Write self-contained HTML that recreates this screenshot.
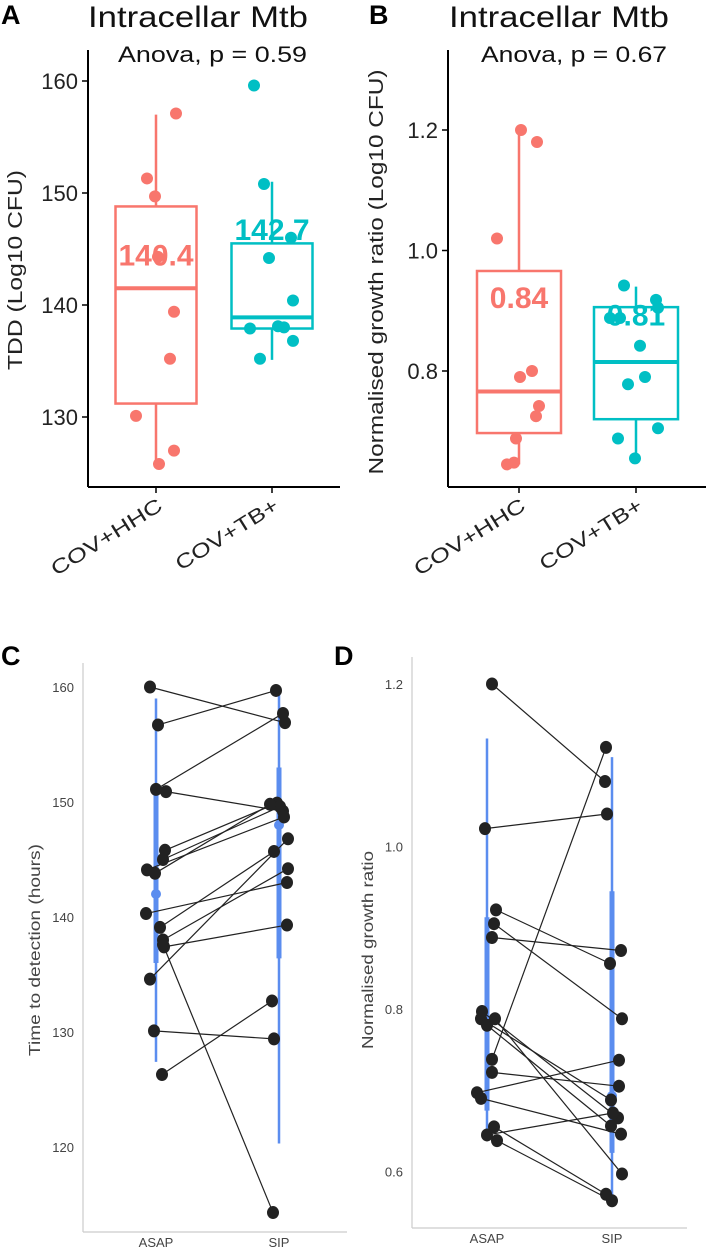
<!DOCTYPE html>
<html><head><meta charset="utf-8"><style>
body{margin:0;background:#fff}
svg{display:block;font-family:"Liberation Sans",Arial,sans-serif}
</style></head><body>
<svg id="fig" width="708" height="1249" viewBox="0 0 708 1249"></svg>
<script>
// ---- Panel A data ----
const catsAB = ["COV+HHC","COV+TB+"];
const aHHC = [157.1,151.3,149.7,144.3,139.4,135.2,130.1,127.0,125.8];
const aTB = [159.6,150.8,146.0,144.2,140.4,137.9,138.1,138.0,136.8,135.2];
const aBoxHHC = [125.8,131.2,141.5,148.8,157.0];
const aBoxTB = [135.1,137.9,138.9,145.5,151.0];
const aMeans = ["140.4","142.7"];
const aMeanVals = [144.5,146.8];
const aTicks = [130,140,150,160];
// ---- Panel B data ----
const bHHC = [1.2,1.18,1.02,0.80,0.79,0.742,0.725,0.688,0.648,0.645];
const bTB = [0.942,0.918,0.905,0.888,0.888,0.842,0.79,0.778,0.688,0.705,0.655];
const bBoxHHC = [0.645,0.697,0.766,0.966,1.2];
const bBoxTB = [0.655,0.72,0.815,0.906,0.94];
const bMeans = ["0.84","0.81"];
const bMeanVals = [0.923,0.894];
const bTicks = [0.8,1.0,1.2];
// ---- Panel C data ----
const catsCD = ["ASAP","SIP"];
const cASAP = [160,156.7,151.1,150.9,145.8,145,144.1,143.8,140.3,139.1,138,137.4,137.6,134.6,130.1,126.3];
const cSIP  = [156.9,159.7,157.7,149.2,149.9,149.6,148.7,149.8,143,145.7,144.2,139.3,114.3,146.8,129.4,132.7];
const cSummary = [[127.4,136,142,151,159],[120.3,136.4,148,153,159.5]];
const cTicks = [120,130,140,150,160];
// ---- Panel D data ----
const dASAP = [1.2,1.022,0.922,0.905,0.888,0.738,0.788,0.797,0.78,0.788,0.722,0.697,0.69,0.655,0.638,0.645];
const dSIP  = [1.08,1.04,0.856,0.788,0.872,1.122,0.688,0.666,0.656,0.597,0.705,0.737,0.646,0.572,0.564,0.672];
const dSummary = [[0.645,0.675,0.78,0.913,1.133],[0.565,0.623,0.693,0.945,1.11]];
const dTicks = [0.6,0.8,1.0,1.2];
// jitter (fraction of band) for dots
const jitA0 = [0.2,-0.09,-0.01,0.02,0.18,0.14,-0.2,0.18,0.03];
const jitA1 = [-0.18,-0.08,0.19,-0.03,0.21,-0.22,0.06,0.12,0.21,-0.12];
const jitB0 = [0.02,0.18,-0.22,0.13,0.01,0.2,0.17,-0.03,-0.05,-0.12];
const jitB1 = [-0.12,0.2,0.22,-0.26,-0.16,0.04,0.09,-0.08,-0.18,0.22,-0.01];
const jitC0 = [-0.06,0.02,0,0.1,0.09,0.07,-0.09,-0.01,-0.1,0.04,0.07,0.08,0.07,-0.06,-0.02,0.06];
const jitC1 = [0.06,-0.03,0.04,0.04,-0.02,0.01,0.05,-0.09,0.08,-0.05,0.09,0.08,-0.06,0.09,-0.05,-0.07];
const jitD0 = [0.05,-0.02,0.09,0.07,0.05,0.05,-0.06,-0.05,0,0.08,0.05,-0.1,-0.06,0.07,0.1,0];
const jitD1 = [-0.07,-0.05,-0.02,0.1,0.09,-0.06,-0.01,0.06,-0.01,0.1,0.07,0.07,0.09,-0.06,0,0.01];

const NS="http://www.w3.org/2000/svg";
const svg=document.getElementById('fig');
function el(tag,attrs,parent,text){const e=document.createElementNS(NS,tag);for(const k in attrs)e.setAttribute(k,attrs[k]);if(text!==undefined)e.textContent=text;(parent||svg).appendChild(e);return e;}
function lin(d0,d1,r0,r1){return v=>r0+(v-d0)*(r1-r0)/(d1-d0);}

const RED="#F8766D",TEAL="#00BFC4",BLUE="#5B8DEF";

function boxPanel(o){
  const g=el('g',{});
  
  
  const y=lin(o.v0,o.v1,o.y0,o.y1);
  const xs=[o.xc0,o.xc1];
  const ax=el('line',{x1:o.ax,y1:o.top,x2:o.ax,y2:o.bottom,stroke:'#000','stroke-width':2},g);
  
  const bx=el('line',{x1:o.ax,y1:o.bottom,x2:o.right,y2:o.bottom,stroke:'#000','stroke-width':2},g);
  
  o.ticks.forEach(t=>{
    el('line',{x1:o.ax-6,x2:o.ax,y1:y(t),y2:y(t),stroke:'#000','stroke-width':1.5},g);
    const tl=el('text',{x:o.ax-10,y:y(t)+8,'text-anchor':'end','font-size':22,fill:'#222'},g,o.fmt(t));
    
  });
  catsAB.forEach((c,i)=>{
    el('line',{x1:xs[i],x2:xs[i],y1:o.bottom,y2:o.bottom+6,stroke:'#000','stroke-width':1.5},g);
    const ex=xs[i]+8, ey=o.bottom+22;
    const tl=el('text',{x:ex,y:ey,'text-anchor':'end','font-size':20,fill:'#222',textLength:o.xl[i],lengthAdjust:'spacingAndGlyphs',transform:`rotate(-32 ${ex} ${ey})`},g,c);
    
  });
  const yt=el('text',{x:0,y:0,'text-anchor':'middle','font-size':20,fill:'#222',textLength:o.ytLen,lengthAdjust:'spacingAndGlyphs',transform:`translate(${o.ytx},${o.ytc}) rotate(-90)`},g,o.ytitle);
  
  const tt=el('text',{x:o.titleX,y:27,'font-size':30,fill:'#111',textLength:220,lengthAdjust:'spacingAndGlyphs'},g,'Intracellar Mtb');
  
  const lt=el('text',{x:o.letterX,y:24,'font-size':27,'font-weight':'bold',fill:'#000'},g,o.letter);
  
  const an=el('text',{x:o.anX,y:62,'font-size':22,fill:'#111',textLength:o.anLen,lengthAdjust:'spacingAndGlyphs'},g,o.anova);
  
  [o.boxes[0],o.boxes[1]].forEach((b,i)=>{
    const col=i?TEAL:RED, x=xs[i], w=o.bw;
    const wl=el('line',{x1:x,x2:x,y1:y(b[0]),y2:y(b[4]),stroke:col,'stroke-width':2.5},g);
    
    const r=el('rect',{x:x-w/2,y:y(b[3]),width:w,height:y(b[1])-y(b[3]),fill:'#fff',stroke:col,'stroke-width':2.5},g);
    
    el('line',{x1:x-w/2,x2:x+w/2,y1:y(b[2]),y2:y(b[2]),stroke:col,'stroke-width':4},g);
  });
  [o.d0,o.d1].forEach((arr,i)=>{
    const col=i?TEAL:RED, jit=i?o.j1:o.j0;
    arr.forEach((v,k)=>{
      const c=el('circle',{cx:xs[i]+jit[k]*o.band,cy:y(v),r:6,fill:col},g);
      
    });
  });
  o.means.forEach((m,i)=>{
    const t=el('text',{x:xs[i],y:y(o.meanVals[i])+11,'text-anchor':'middle','font-size':30,'font-weight':'bold',fill:i?TEAL:RED},g,m);
    
  });
}

boxPanel({name:'panel-a',letter:'A',letterX:1,titleX:88,anX:118,anLen:189,anova:'Anova, p = 0.59',ax:88,top:50,bottom:487,right:340,
  v0:130,v1:160,y0:417,y1:81,ticks:aTicks,fmt:t=>String(t),xc0:156,xc1:272,bw:81,band:100,xl:[127,117],
  boxes:[aBoxHHC,aBoxTB],d0:aHHC,d1:aTB,j0:jitA0,j1:jitA1,
  means:aMeans,meanVals:aMeanVals,ytitle:'TDD (Log10 CFU)',ytx:22,ytc:270,ytLen:200});
boxPanel({name:'panel-b',letter:'B',letterX:369,titleX:449,anX:481,anLen:186,anova:'Anova, p = 0.67',ax:448,top:50,bottom:487,right:706,
  v0:0.8,v1:1.2,y0:371,y1:130,ticks:bTicks,fmt:t=>t.toFixed(1),xc0:519,xc1:636,bw:84,band:100,xl:[127,117],
  boxes:[bBoxHHC,bBoxTB],d0:bHHC,d1:bTB,j0:jitB0,j1:jitB1,
  means:bMeans,meanVals:bMeanVals,ytitle:'Normalised growth ratio (Log10 CFU)',ytx:383,ytc:272,ytLen:405});

function pairPanel(o){
  const g=el('g',{});
  
  
  const y=lin(o.v0,o.v1,o.y0,o.y1);
  const xs=[o.xc0,o.xc1];
  const ax=el('line',{x1:o.ax,y1:o.top,x2:o.ax,y2:o.bottom,stroke:'#ccc','stroke-width':1.2},g);
  
  const bx=el('line',{x1:o.ax,y1:o.bottom,x2:o.right,y2:o.bottom,stroke:'#ccc','stroke-width':1.2},g);
  
  o.ticks.forEach(t=>{
    const tl=el('text',{x:o.ax-9,y:y(t)+5,'text-anchor':'end','font-size':13,fill:'#444'},g,o.fmt(t));
    
  });
  catsCD.forEach((c,i)=>{
    const tl=el('text',{x:xs[i],y:o.bottom+15,'text-anchor':'middle','font-size':13,fill:'#444'},g,c);
    
  });
  const yt=el('text',{x:0,y:0,'text-anchor':'middle','font-size':16,fill:'#444',textLength:o.ytLen,lengthAdjust:'spacingAndGlyphs',transform:`translate(${o.ytx},${o.ytc}) rotate(-90)`},g,o.ytitle);
  
  const lt=el('text',{x:o.letterX,y:665,'font-size':27,'font-weight':'bold',fill:'#000'},g,o.letter);
  
  o.summary.forEach((s,i)=>{
    const x=xs[i];
    const t1=el('line',{x1:x,x2:x,y1:y(s[0]),y2:y(s[4]),stroke:BLUE,'stroke-width':2.5},g);
    
    const t2=el('line',{x1:x,x2:x,y1:y(s[1]),y2:y(s[3]),stroke:BLUE,'stroke-width':5},g);
    
    const m=el('circle',{cx:x,cy:y(s[2]),r:5,fill:BLUE},g);
    
  });
  o.a.forEach((v,k)=>{
    const x1=xs[0]+o.j[k]*o.band, x2=xs[1]+o.j2[k]*o.band;
    const l=el('line',{x1:x1,y1:y(v),x2:x2,y2:y(o.b[k]),stroke:'#222','stroke-width':1.2},g);
    
  });
  o.a.forEach((v,k)=>{
    const x1=xs[0]+o.j[k]*o.band, x2=xs[1]+o.j2[k]*o.band;
    const c1=el('ellipse',{cx:x1,cy:y(v),rx:6,ry:6.5,fill:'#222'},g);
    
    const c2=el('ellipse',{cx:x2,cy:y(o.b[k]),rx:6,ry:6.5,fill:'#222'},g);
    
  });
}
pairPanel({name:'panel-c',letter:'C',letterX:1,ax:83,top:663,bottom:1232,right:347,v0:160,v1:120,y0:687,y1:1147,
  ticks:cTicks,fmt:t=>String(t),xc0:156,xc1:279,band:100,summary:cSummary,a:cASAP,b:cSIP,j:jitC0,j2:jitC1,
  ytitle:'Time to detection (hours)',ytx:40,ytc:950,ytLen:212});
pairPanel({name:'panel-d',letter:'D',letterX:334,ax:412,top:657,bottom:1228,right:687,v0:0.8,v1:1.2,y0:1009,y1:684,
  ticks:dTicks,fmt:t=>t.toFixed(1),xc0:487,xc1:612,band:100,summary:dSummary,a:dASAP,b:dSIP,j:jitD0,j2:jitD1,
  ytitle:'Normalised growth ratio',ytx:373,ytc:950,ytLen:198});
</script>
</body></html>
